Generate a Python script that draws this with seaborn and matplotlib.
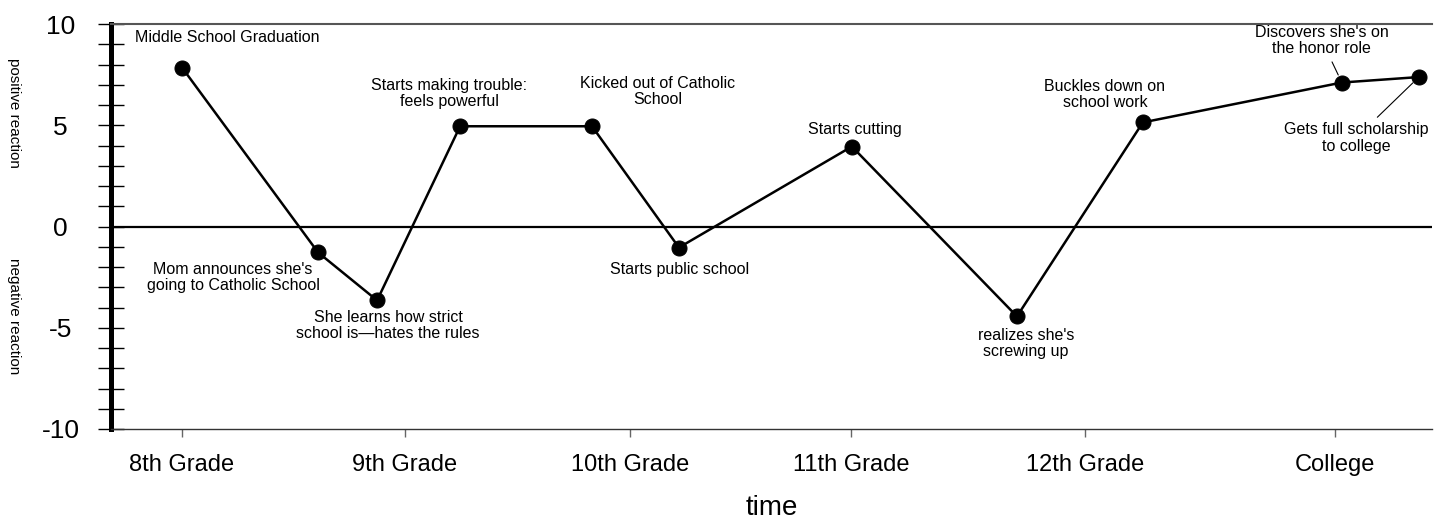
import matplotlib
matplotlib.use("Agg")
import matplotlib.pyplot as plt
from matplotlib.ticker import FixedLocator, MultipleLocator
import seaborn as sns
import pandas as pd

# ---------------- data ----------------
stages = ["8th Grade", "9th Grade", "10th Grade", "11th Grade", "12th Grade", "College"]
stage_pos = [0.0, 0.967, 1.943, 2.901, 3.916, 5.0]

event_time = [0.0, 0.59, 0.846, 1.206, 1.778, 2.155, 2.905, 3.621, 4.167, 5.03, 5.364]
reaction = [7.85, -1.28, -3.65, 4.95, 4.95, -1.04, 3.95, -4.44, 5.14, 7.11, 7.38]
events = [
    "Middle School Graduation",
    "Mom announces she's\ngoing to Catholic School",
    "She learns how strict\nschool is\u2014hates the rules",
    "Starts making trouble:\nfeels powerful",
    "Kicked out of Catholic\nSchool",
    "Starts public school",
    "Starts cutting",
    "realizes she's\nscrewing up",
    "Buckles down on\nschool work",
    "Discovers she's on\nthe honor role",
    "Gets full scholarship\nto college",
]
# label offsets in pixels relative to each point
label_dx = [45, -85, 11, -11, 66, 1, 3, 9, -38, -20, -63]
label_dy = [30, -25, -25, 33, 35, -22, 17, -27, 28, 42, -61]
with_leader = [False, False, False, False, False, False, False, False, False, True, True]

y_major = [-10, -5, 0, 5, 10]

# ---------------- style ----------------
sns.set_style("white")
plt.rcParams["font.family"] = ["Liberation Sans", "DejaVu Sans"]
plt.rcParams["text.color"] = "black"
plt.rcParams["axes.labelcolor"] = "black"
plt.rcParams["xtick.color"] = "black"
plt.rcParams["ytick.color"] = "black"

df = pd.DataFrame({"time": event_time, "reaction": reaction})

fig = plt.figure(figsize=(14.39, 5.25), dpi=100)
ax = fig.add_axes([111 / 1439, 1 - 429 / 525, (1432 - 111) / 1439, (429 - 24) / 525])

sns.lineplot(data=df, x="time", y="reaction", ax=ax, color="black", lw=1.8,
             marker="o", markersize=10.8, markeredgecolor="black",
             markerfacecolor="black", sort=False, zorder=5)

ax.axhline(0, color="black", lw=1.6, zorder=3)

ax.set_xlim(-0.308, 5.421)
ax.set_ylim(-10, 10)

# spines
ax.spines["right"].set_visible(False)
ax.spines["top"].set_color("#555555")
ax.spines["top"].set_linewidth(1.5)
ax.spines["bottom"].set_color("#333333")
ax.spines["bottom"].set_linewidth(1.0)
ax.spines["left"].set_color("black")
ax.spines["left"].set_linewidth(3.6)

# y ticks
ax.yaxis.set_major_locator(FixedLocator(y_major))
ax.yaxis.set_minor_locator(MultipleLocator(1))
ax.set_yticklabels([str(v) for v in y_major])
ax.tick_params(axis="y", which="both", direction="inout", length=18.5, width=1.0,
               color="black", left=True)
ax.tick_params(axis="y", which="major", labelsize=19, pad=27, labelcolor="black")
for lab in ax.get_yticklabels():
    lab.set_horizontalalignment("center")

# x ticks
ax.set_xticks(stage_pos)
ax.set_xticklabels(stages)
ax.tick_params(axis="x", which="major", direction="out", length=6, width=1.0,
               color="#666666", labelsize=17, pad=12, bottom=True, labelcolor="black")

ax.set_xlabel("time", fontsize=20, labelpad=14, color="black")
ax.set_ylabel("")

# annotations
for t, r, txt, dx, dy, lead in zip(event_time, reaction, events, label_dx, label_dy, with_leader):
    kw = dict(textcoords="offset pixels", ha="center", va="center",
              fontsize=11.5, linespacing=1.1, multialignment="center", zorder=6,
              color="black")
    if lead:
        kw["arrowprops"] = dict(arrowstyle="-", color="black", lw=0.8,
                                shrinkA=2, shrinkB=6)
    ax.annotate(txt, xy=(t, r), xytext=(dx, dy), **kw)

fig.text(14 / 1439, 1 - 113 / 525, "positive reaction", rotation=-90,
         ha="center", va="center", fontsize=11, color="black")
fig.text(14 / 1439, 1 - 316 / 525, "negative reaction", rotation=-90,
         ha="center", va="center", fontsize=11, color="black")

fig.savefig("out.png", dpi=100)
